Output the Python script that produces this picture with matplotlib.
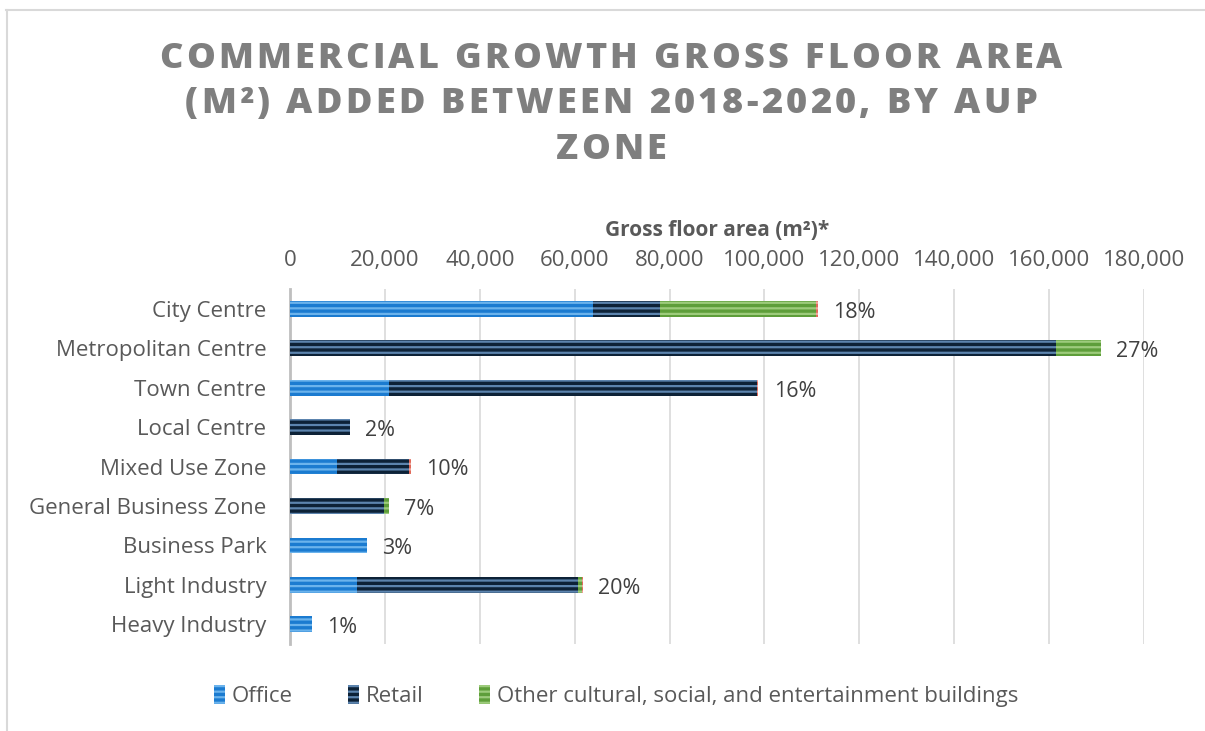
import matplotlib
matplotlib.use('Agg')
import matplotlib.pyplot as plt
from matplotlib.lines import Line2D
from matplotlib.patches import Patch
import numpy as np

zones = ['City Centre', 'Metropolitan Centre', 'Town Centre', 'Local Centre', 'Mixed Use Zone',
         'General Business Zone', 'Business Park', 'Light Industry', 'Heavy Industry']
office = [63900, 0, 20900, 0, 9900, 0, 16200, 14100, 4600]
retail = [14100, 161400, 77500, 12650, 15200, 19800, 0, 46600, 0]
other = [32900, 9500, 0, 0, 0, 1100, 0, 800, 0]
unspecified = [300, 0, 300, 0, 300, 0, 0, 300, 0]
share_labels = ['18%', '27%', '16%', '2%', '10%', '7%', '3%', '20%', '1%']

series = ['Office', 'Retail', 'Other cultural, social, and entertainment buildings']
face = ['#1B7BD0', '#0D2237', '#5E9E3A', '#E06A5A']
stripe = ['#6BB3EC', '#5C84AE', '#9DCB7C', '#F2A8A0']
title_lines = ['COMMERCIAL GROWTH GROSS FLOOR AREA', '(M²) ADDED BETWEEN 2018-2020, BY AUP', 'ZONE']

W, H = 1205, 731
plt.rcParams['font.family'] = ['Open Sans', 'DejaVu Sans']
plt.rcParams['hatch.linewidth'] = 1.6

fig = plt.figure(figsize=(W / 100, H / 100), dpi=100)
ax = fig.add_axes([290 / W, 1 - 644 / H, (1144 - 290) / W, (644 - 289) / H])

y = np.arange(len(zones))
left = np.zeros(len(zones))
for vals, fc, sc in zip([office, retail, other, unspecified], face, stripe):
    vals = np.array(vals, dtype=float)
    ax.barh(y, vals, left=left, height=0.4, color=fc, edgecolor=sc, linewidth=0,
            hatch='---', zorder=3)
    left += vals

for i, lab in enumerate(share_labels):
    ax.annotate(lab, (left[i], y[i]), xytext=(11, -2.5), textcoords='offset points',
                va='center', ha='left', fontsize=15.5, color='#404040')

ax.set_xlim(0, 180000)
ax.set_ylim(len(zones) - 0.5, -0.5)
ax.xaxis.tick_top()
ax.xaxis.set_label_position('top')
ax.set_xticks(np.arange(0, 180001, 20000))
ax.set_xticklabels([f'{v:,}' for v in range(0, 180001, 20000)])
ax.set_yticks(y)
ax.set_yticklabels(zones)
ax.tick_params(axis='both', length=0, labelsize=16, labelcolor='#595959')
ax.tick_params(axis='x', pad=13)
ax.tick_params(axis='y', pad=17)
ax.grid(axis='x', color='#D9D9D9', linewidth=1.2, zorder=0)
for s in ['top', 'right', 'bottom']:
    ax.spines[s].set_visible(False)
ax.spines['left'].set_color('#BFBFBF')
ax.spines['left'].set_linewidth(2)
ax.set_xlabel('Gross floor area (m²)*', fontsize=15, fontweight='bold', color='#595959', labelpad=10)

# title with wide letter spacing, one glyph at a time
renderer = fig.canvas.get_renderer()
tkw = dict(fontsize=26, fontweight='heavy', color='#7F7F7F', va='center', ha='left')


def glyph_widths(s):
    out = []
    for ch in s:
        t = fig.text(0, 0, ch if ch != ' ' else 'I', **tkw)
        w = t.get_window_extent(renderer).width
        t.remove()
        out.append(w * 0.75 if ch == ' ' else w)
    return out


w0 = glyph_widths(title_lines[0])
gap = (903 - sum(w0)) / (len(title_lines[0]) - 1)
for line, yc in zip(title_lines, [59, 104, 150]):
    ws = glyph_widths(line)
    total = sum(ws) + gap * (len(line) - 1)
    x = 611 - total / 2
    for ch, w in zip(line, ws):
        if ch != ' ':
            fig.text(x / W, 1 - yc / H, ch, **tkw)
        x += w + gap

handles = [Patch(facecolor=fc, edgecolor=sc, linewidth=0, hatch='---')
           for fc, sc in zip(face[:3], stripe[:3])]
fig.legend(handles, series, loc='center', bbox_to_anchor=(616 / W, 1 - 696 / H), ncol=3,
           frameon=False, fontsize=16, labelcolor='#595959', handlelength=0.5, handleheight=0.9,
           handletextpad=0.3, columnspacing=2.5)

# thin frame along the top and left edges
fig.add_artist(Line2D([6 / W, 1], [1 - 10 / H] * 2, color='#D9D9D9', linewidth=1.5))
fig.add_artist(Line2D([7 / W] * 2, [1 - 10 / H, 0], color='#D9D9D9', linewidth=1.5))

fig.savefig('out.png', dpi=100, facecolor='white')
